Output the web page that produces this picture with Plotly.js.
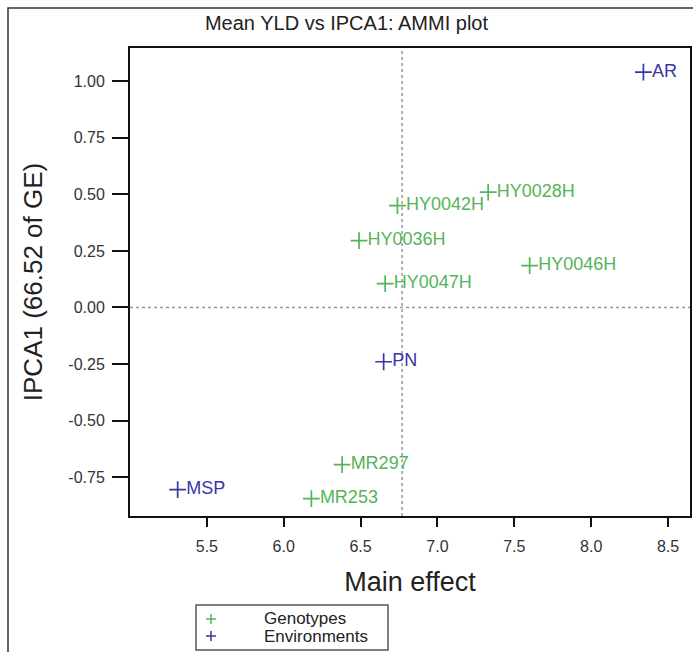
<!DOCTYPE html>
<html>
<head>
<meta charset="utf-8">
<script src="https://cdn.plot.ly/plotly-3.0.1.min.js"></script>
<style>
  html, body { margin: 0; padding: 0; background: #fff; }
  #chart { width: 693px; height: 652px; }
</style>
</head>
<body>
<div id="chart"></div>
<script>
// ---- data ----
const genotypeNames = ["HY0028H", "HY0042H", "HY0036H", "HY0047H", "HY0046H", "MR297", "MR253"];
const genotypeMain  = [7.33, 6.74, 6.49, 6.66, 7.60, 6.38, 6.18];
const genotypeIPCA1 = [0.51, 0.45, 0.295, 0.105, 0.185, -0.695, -0.845];

const envNames = ["AR", "PN", "MSP"];
const envMain  = [8.34, 6.65, 5.31];
const envIPCA1 = [1.04, -0.24, -0.805];

const grandMean = 6.77;

const xTicks = [5.5, 6.0, 6.5, 7.0, 7.5, 8.0, 8.5];
const yTicks = [-0.75, -0.50, -0.25, 0.00, 0.25, 0.50, 0.75, 1.00];

const legendLabels = ["Genotypes", "Environments"];

// ---- styling ----
const green = "rgb(84,180,88)";
const blue = "rgb(55,55,165)";
const W = 693, H = 652;
const M = {l: 130, r: 3, t: 48, b: 136};
const pw = W - M.l - M.r, ph = H - M.t - M.b;
const px2x = p => (p - M.l) / pw;
const px2y = p => (H - M.b - p) / ph;
const font = "Liberation Sans, Arial, sans-serif";

function pointTrace(xs, ys, names, color) {
  return {
    type: "scatter", mode: "markers+text",
    x: xs, y: ys, text: names,
    textposition: "middle right",
    textfont: {family: font, size: 18, color: color},
    marker: {symbol: "cross-thin-open", size: 12, line: {color: color, width: 1.7}, color: color},
    showlegend: false, hoverinfo: "skip", cliponaxis: false
  };
}

const data = [
  pointTrace(genotypeMain, genotypeIPCA1, genotypeNames, green),
  pointTrace(envMain, envIPCA1, envNames, blue)
];

// legend "+" symbols drawn as small crosses
function crossShapes(cx, cy, color) {
  const h = 5;
  return [
    {type: "line", xref: "paper", yref: "paper", x0: px2x(cx - h), x1: px2x(cx + h), y0: px2y(cy), y1: px2y(cy),
     line: {color: color, width: 1.5}},
    {type: "line", xref: "paper", yref: "paper", x0: px2x(cx), x1: px2x(cx), y0: px2y(cy - h), y1: px2y(cy + h),
     line: {color: color, width: 1.5}}
  ];
}

const layout = {
  width: W, height: H,
  margin: M,
  paper_bgcolor: "#fff", plot_bgcolor: "#fff",
  font: {family: font, color: "#222"},
  showlegend: false,
  title: {text: "Mean YLD vs IPCA1: AMMI plot", font: {size: 20, color: "#222", family: font},
          x: 0.5, xref: "container", xanchor: "center", y: 1 - 23 / H, yref: "container", yanchor: "middle"},
  xaxis: {
    range: [5.0, 8.643], tickvals: xTicks, ticktext: xTicks.map(v => v.toFixed(1)),
    ticks: "outside", ticklen: 9, tickwidth: 2, tickcolor: "#111",
    showline: true, linecolor: "#111", linewidth: 2, mirror: true,
    showgrid: false, zeroline: false,
    tickfont: {size: 16, color: "#333"}, ticklabelstandoff: 6,
    title: {text: "Main effect", font: {size: 27, color: "#222"}, standoff: 18}
  },
  yaxis: {
    range: [-0.922, 1.147], tickvals: yTicks, ticktext: yTicks.map(v => v.toFixed(2)),
    ticks: "outside", ticklen: 16, tickwidth: 2, tickcolor: "#111",
    showline: true, linecolor: "#111", linewidth: 2, mirror: true,
    showgrid: false, zeroline: false,
    tickfont: {size: 16, color: "#333"}, ticklabelstandoff: 4,
    title: {text: "IPCA1 (66.52 of GE)", font: {size: 26, color: "#222"}, standoff: 18}
  },
  shapes: [
    {type: "line", xref: "x", yref: "paper", x0: grandMean, x1: grandMean, y0: 0, y1: 1,
     line: {color: "#999", width: 1.5, dash: "dot"}, layer: "below"},
    {type: "line", xref: "paper", yref: "y", x0: 0, x1: 1, y0: 0, y1: 0,
     line: {color: "#999", width: 1.5, dash: "dot"}, layer: "below"},
    // outer frame
    {type: "rect", xref: "paper", yref: "paper",
     x0: px2x(8), x1: px2x(W + 20), y0: px2y(8), y1: px2y(H + 20),
     line: {color: "#333", width: 1.5}},
    // legend box
    {type: "rect", xref: "paper", yref: "paper",
     x0: px2x(196), x1: px2x(388), y0: px2y(605), y1: px2y(650),
     line: {color: "#555", width: 1.5}},
    ...crossShapes(211, 619, green),
    ...crossShapes(211, 636, blue)
  ],
  annotations: [
    {xref: "paper", yref: "paper", x: px2x(262), y: px2y(618), text: legendLabels[0], showarrow: false,
     font: {size: 17, color: "#222"}, xanchor: "left", yanchor: "middle"},
    {xref: "paper", yref: "paper", x: px2x(262), y: px2y(636), text: legendLabels[1], showarrow: false,
     font: {size: 17, color: "#222"}, xanchor: "left", yanchor: "middle"}
  ]
};

Plotly.newPlot("chart", data, layout, {displayModeBar: false, staticPlot: true});
</script>
</body>
</html>
